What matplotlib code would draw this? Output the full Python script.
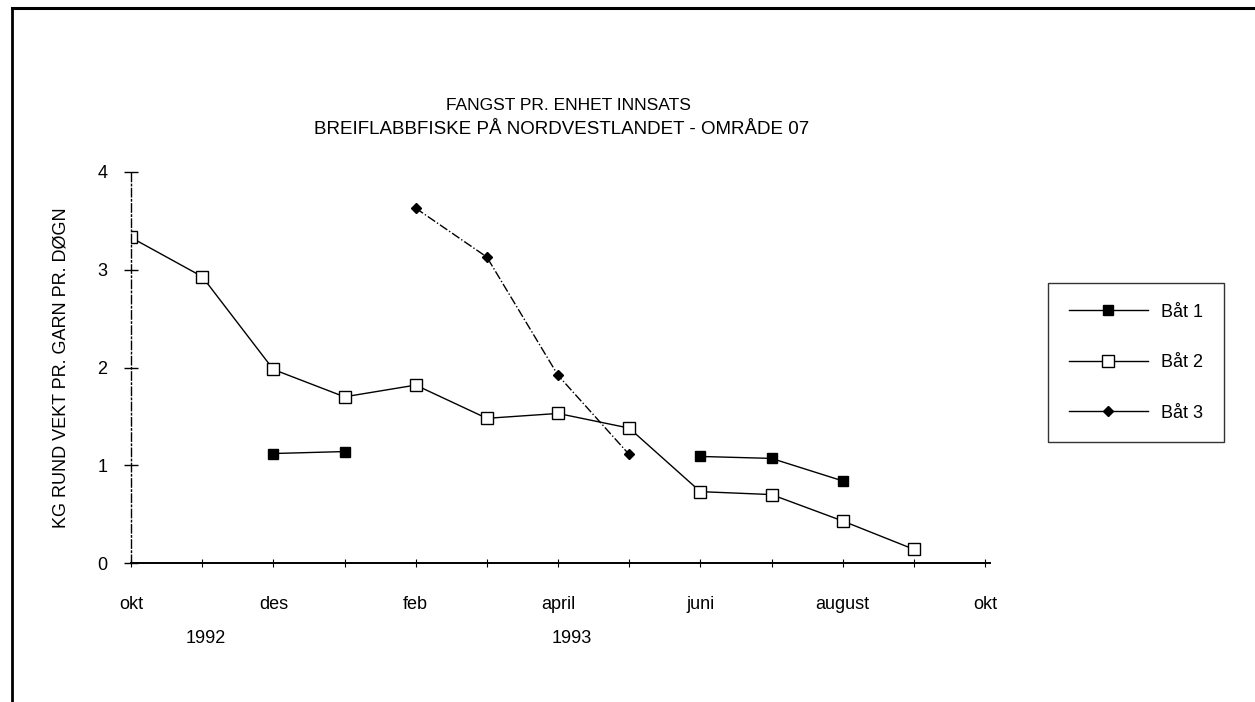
import numpy as np
import matplotlib
matplotlib.use("Agg")
import matplotlib.pyplot as plt
from matplotlib.lines import Line2D

plt.rcParams['font.family'] = ['Liberation Sans', 'DejaVu Sans']

# --- data: month index 0 = okt 1992 ---
months = np.arange(12)
bat1 = [np.nan, np.nan, 1.12, 1.14, np.nan, np.nan, np.nan, np.nan, 1.09, 1.07, 0.84, np.nan]
bat2 = [3.33, 2.93, 1.98, 1.70, 1.82, 1.48, 1.53, 1.38, 0.73, 0.70, 0.43, 0.14]
bat3 = [np.nan, np.nan, np.nan, np.nan, 3.63, 3.13, 1.92, 1.11, np.nan, np.nan, np.nan, np.nan]

tick_pos = [0, 2, 4, 6, 8, 10, 12]
tick_labels = ['okt', 'des', 'feb', 'april', 'juni', 'august', 'okt']
years = ['1992', '1993']
year_pos = [1.05, 6.2]

fig = plt.figure(figsize=(12.55, 7.02), dpi=100)
ax = fig.add_axes([131 / 1255, 139 / 702, 859 / 1255, 391 / 702])

ax.plot(months, bat1, color='black', lw=1.0, marker='s', ms=6.5, label='Båt 1')
ax.plot(months, bat2, color='black', lw=1.0, marker='s', ms=8, mfc='white', mec='black', label='Båt 2')
ax.plot(months, bat3, color='black', lw=1.0, ls='-.', marker='D', ms=5.5, label='Båt 3')

ax.set_xlim(0, 12.07)
ax.set_ylim(0, 4)
ax.set_xticks(tick_pos)
ax.set_xticklabels(tick_labels, fontsize=13)
ax.set_xticks(np.arange(13), minor=True)
ax.set_yticks([0, 1, 2, 3, 4])
ax.set_yticklabels(['0', '1', '2', '3', '4'], fontsize=13)
ax.tick_params(axis='y', direction='inout', length=10, width=1, pad=12)
ax.tick_params(axis='x', which='both', direction='inout', length=6, width=0.8, pad=21)

for s in ['top', 'right']:
    ax.spines[s].set_visible(False)
ax.spines['left'].set_linestyle((0, (6, 2, 1, 2)))
ax.spines['left'].set_linewidth(1.0)
ax.spines['bottom'].set_linewidth(1.4)

for yr, xp in zip(years, year_pos):
    ax.text(xp, -0.77, yr, ha='center', va='center', fontsize=13)

ax.set_ylabel('KG RUND VEKT PR. GARN PR. DØGN', fontsize=13, labelpad=20)

fig.text(568 / 1255, 1 - 106 / 702, 'FANGST PR. ENHET INNSATS', ha='center', va='center', fontsize=12.5)
fig.text(562 / 1255, 1 - 129 / 702, 'BREIFLABBFISKE PÅ NORDVESTLANDET - OMRÅDE 07',
         ha='center', va='center', fontsize=13.5)

leg = ax.legend(loc='upper left', bbox_to_anchor=(1048 / 1255, 1 - 283 / 702),
                bbox_transform=fig.transFigure, frameon=True, fancybox=False,
                edgecolor='black', fontsize=13, handlelength=4.4, handletextpad=0.7,
                labelspacing=1.85, borderpad=1.15, borderaxespad=0)
leg.get_frame().set_linewidth(1.0)
for h in leg.get_lines():
    h.set_linestyle('-')

# page border (top and left)
fig.add_artist(Line2D([12 / 1255, 1], [1 - 8 / 702, 1 - 8 / 702], color='black', lw=2.2,
                      transform=fig.transFigure))
fig.add_artist(Line2D([12 / 1255, 12 / 1255], [0, 1 - 8 / 702], color='black', lw=2.0,
                      transform=fig.transFigure))

fig.savefig('out.png', dpi=100)
